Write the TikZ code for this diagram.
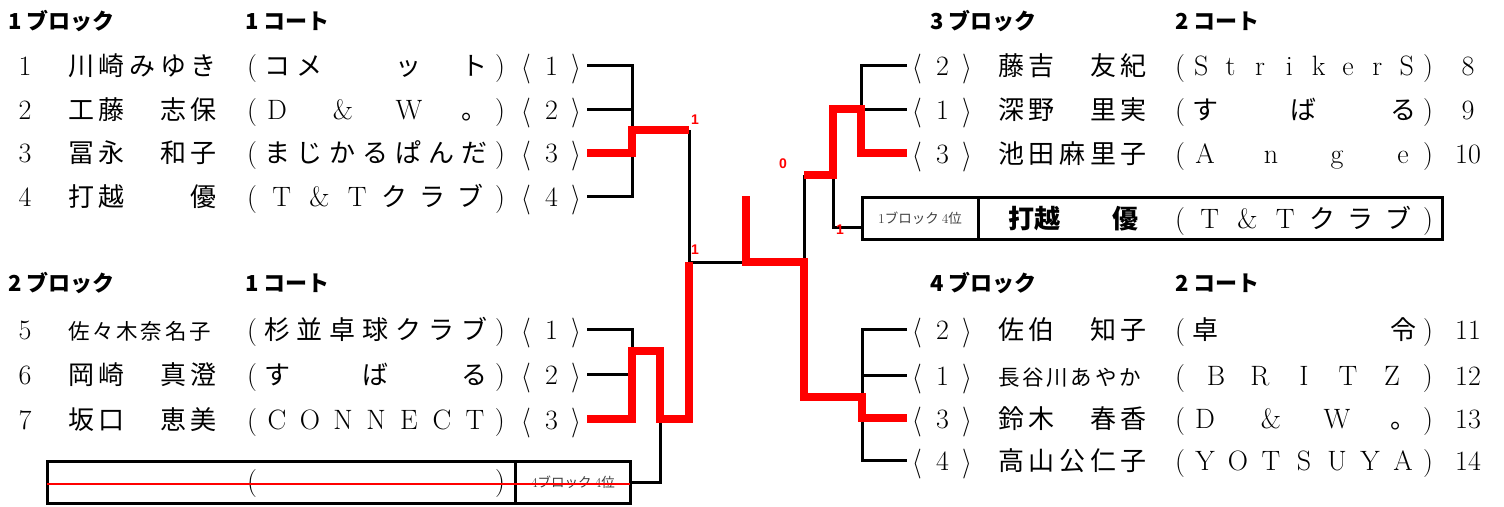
\documentclass[tikz,border=0pt]{standalone}
\usepackage{graphicx}
\usepackage{fontspec}
\newfontfamily\jp{Noto Sans CJK JP}
\newfontfamily\arial{Liberation Sans}
\newcommand\lat{\rmfamily\fontsize{28}{30}\selectfont}
\makeatletter
\newcommand\spread[3]{\hbox to #1{\let\spsep\relax\@tfor\spitem:=#3\do{\spsep\hbox to #2{\hss\spitem\hss}\let\spsep\hfil}}}
\makeatother
\newcommand\club[1]{\spread{290pt}{26pt}{{\hfill\lat(}#1{\lat)\hfill}}}
\newcommand\nm[1]{\spread{149pt}{26pt}{#1}}
\newcommand\nmsix[1]{{\fontsize{21.5}{24}\selectfont\spread{143pt}{21.5pt}{#1}}}
\newcommand\seed[1]{{\lat\hbox to 75pt{\hbox to 25pt{\hss\raisebox{-1pt}{\scalebox{1}[1.2]{$\langle$}}\hss}\hbox to 25pt{\hss #1\hss}\hbox to 25pt{\hss\raisebox{-1pt}{\scalebox{1}[1.2]{$\rangle$}}\hss}}}}
\newcommand\lrow[6]{%
  \node[txt] (n#1) at (25,#2+10) {\lat #3};
  \node[txt,anchor=base west] (a#1) at (68,#2+10) {#4};
  \node[txt,anchor=base west] (c#1) at (231,#2+10) {\club{#5}};
  \node[txt,anchor=base west] (s#1) at (514,#2+10) {\seed{#6}};}
\newcommand\rrow[6]{%
  \node[txt,anchor=base west] (s#1) at (905,#2+10) {\seed{#6}};
  \node[txt,anchor=base west] (a#1) at (998,#2+10) {#4};
  \node[txt,anchor=base west] (c#1) at (1159,#2+10) {\club{#5}};
  \node[txt] (n#1) at (1468,#2+10) {\lat #3};}
\begin{document}
\begin{tikzpicture}[x=1pt,y=-1pt,
  txt/.style={inner sep=0pt,outer sep=0pt,anchor=base,font=\jp\fontsize{26}{30}\selectfont},
  hd/.style={inner sep=0pt,anchor=west,font=\jp\bfseries\fontsize{22}{24}\selectfont},
  lab/.style={inner sep=0pt,text=red,font=\arial\bfseries\fontsize{14}{14}\selectfont},
  bk/.style={line width=3pt,line join=miter},
  rd/.style={draw=red,line width=7.5pt,line join=miter},
  boxst/.style={draw,line width=3pt,inner sep=0pt,outer sep=0pt},
  small/.style={inner sep=0pt,text=black!75,font=\jp\fontsize{13.5}{14}\selectfont}]
\useasboundingbox (0,0) rectangle (1504,506);
% headers
\node[hd] (h1) at (8,21) {1 ブロック};
\node[hd] (h1c) at (245,21) {1 コート};
\node[hd] (h2) at (8,283) {2 ブロック};
\node[hd] (h2c) at (245,283) {1 コート};
\node[hd] (h3) at (930,21) {3 ブロック};
\node[hd] (h3c) at (1175,21) {2 コート};
\node[hd] (h4) at (930,283) {4 ブロック};
\node[hd] (h4c) at (1175,283) {2 コート};
% left rows
\lrow{1}{65}{1}{\nm{川崎みゆき}}{コメ　　ッ　ト}{1}
\lrow{2}{109}{2}{\nm{工藤　志保}}{{\lat D}　{\lat\&}　{\lat W}　。}{2}
\lrow{3}{152}{3}{\nm{冨永　和子}}{まじかるぱんだ}{3}
\lrow{4}{196}{4}{\nm{打越　　優}}{{\lat T}{\lat\&}{\lat T}クラブ}{4}
\lrow{5}{329}{5}{\nmsix{佐々木奈名子}}{杉並卓球クラブ}{1}
\lrow{6}{374}{6}{\nm{岡崎　真澄}}{す　　ば　　る}{2}
\lrow{7}{419}{7}{\nm{坂口　恵美}}{{\lat C}{\lat O}{\lat N}{\lat N}{\lat E}{\lat C}{\lat T}}{3}
% right rows
\rrow{8}{65}{8}{\nm{藤吉　友紀}}{{\lat S}{\lat t}{\lat r}{\lat i}{\lat k}{\lat e}{\lat r}{\lat S}}{2}
\rrow{9}{109}{9}{\nm{深野　里実}}{す　　ば　　る}{1}
\rrow{10}{153}{10}{\nm{池田麻里子}}{{\lat A}　{\lat n}　{\lat g}　{\lat e}}{3}
\rrow{11}{329}{11}{\nm{佐伯　知子}}{卓　　　　　令}{2}
\rrow{12}{375}{12}{\nmsix{長谷川あやか}}{{\lat B}{\lat R}{\lat I}{\lat T}{\lat Z}}{1}
\rrow{13}{418}{13}{\nm{鈴木　春香}}{{\lat D}　{\lat\&}　{\lat W}　。}{3}
\rrow{14}{460}{14}{\nm{高山公仁子}}{{\lat Y}{\lat O}{\lat T}{\lat S}{\lat U}{\lat Y}{\lat A}}{4}
% boxes
\node[boxst,minimum width=580pt,minimum height=42pt] (box1) at (1152,218) {};
\draw[bk] (978,197) -- (978,239);
\node[small] (t1) at (920,218) {{\rmfamily 1}ブロック {\rmfamily 4}位};
\node[txt,anchor=base west,font=\jp\bfseries\fontsize{26}{30}\selectfont] (bn) at (1008,228) {\hbox to 130pt{打越\hfil 優}};
\node[txt,anchor=base west] (bc) at (1159,228) {\spread{290pt}{26pt}{{\hfill\lat(}{\lat T}{\lat\&}{\lat T}クラブ{\lat)\hfill}}};
\node[boxst,minimum width=583pt,minimum height=42pt] (box4) at (338.5,482) {};
\draw[bk] (515,461) -- (515,503);
\node[txt,anchor=base west] (b4c) at (231,490) {\club{　　　　　　　}};
\node[small] (t4) at (573,482) {{\rmfamily 4}ブロック {\rmfamily 4}位};
\draw[red,line width=2pt] ([yshift=-2pt]box4.west) -- ([yshift=-2pt]box4.east);
% coordinates
\coordinate (L1) at (587,65); \coordinate (L2) at (587,109);
\coordinate (L3) at (587,153); \coordinate (L4) at (587,196);
\coordinate (J1t) at (632,65); \coordinate (J1b) at (632,196);
\coordinate (J1m2) at (632,109); \coordinate (J1m3) at (632,153);
\coordinate (J1w) at (632,130); \coordinate (W1) at (689,130);
\coordinate (C1) at (689,262); \coordinate (C2) at (746,262);
\coordinate (C2t) at (746,196); \coordinate (C3) at (804,262);
\coordinate (L5) at (587,329); \coordinate (L6) at (587,374); \coordinate (L7) at (587,419);
\coordinate (J2t) at (632,329); \coordinate (J2m) at (632,374);
\coordinate (J2w) at (632,351); \coordinate (J2x) at (660,351);
\coordinate (J2y) at (660,419); \coordinate (J2z) at (632,419);
\coordinate (J2r) at (689,419); \coordinate (B1) at (660,482);
\coordinate (R8) at (907,65); \coordinate (R9) at (907,109); \coordinate (R10) at (907,153);
\coordinate (K1t) at (861,65); \coordinate (K1m) at (861,109); \coordinate (K1r) at (861,153);
\coordinate (K2) at (833,109); \coordinate (K3) at (833,175);
\coordinate (K4) at (804,175); \coordinate (K5) at (833,227);
\coordinate (R11) at (907,329); \coordinate (R12) at (907,375);
\coordinate (R13) at (907,418); \coordinate (R14) at (907,460);
\coordinate (M1t) at (862,329); \coordinate (M1b) at (862,460);
\coordinate (M12) at (862,375); \coordinate (M13) at (862,418);
\coordinate (M1w) at (862,397); \coordinate (C3b) at (804,397);
% black lines
\draw[bk] (L1) -- (J1t) -- (J1b) -- (L4);
\draw[bk] (L2) -- (J1m2);
\draw[bk] (W1) -- (C1) -- (C2);
\draw[bk] (L5) -- (J2t) -- (J2m);
\draw[bk] (L6) -- (J2m);
\draw[bk] (J2y) -- (B1) -- (box4.east);
\draw[bk] (R8) -- (K1t) -- (K1m) -- (R9);
\draw[bk] (K4) -- (C3);
\draw[bk] (K3) -- (K5) -- (box1.west |- K5);
\draw[bk] (R11) -- (M1t) -- (M1b) -- (R14);
\draw[bk] (M12) -- (R12);
% red winner lines
\draw[rd] (L3) -- (J1m3) -- (J1w) -- (W1);
\draw[rd] (L7) -- (J2z) -- (J2w) -- (J2x) -- (J2y) -- (J2r) -- (C1);
\draw[rd] (C2t) -- (C2) -- (C3) -- (C3b) -- (M1w) -- (M13) -- (R13);
\draw[rd] (R10) -- (K1r) -- (K1m) -- (K2) -- (K3) -- (K4);
% labels
\node[lab] (s1) at (695,120) {1};
\node[lab] (s2) at (695,250) {1};
\node[lab] (s3) at (783,164) {0};
\node[lab] (s4) at (840,230) {1};
\end{tikzpicture}
\end{document}
